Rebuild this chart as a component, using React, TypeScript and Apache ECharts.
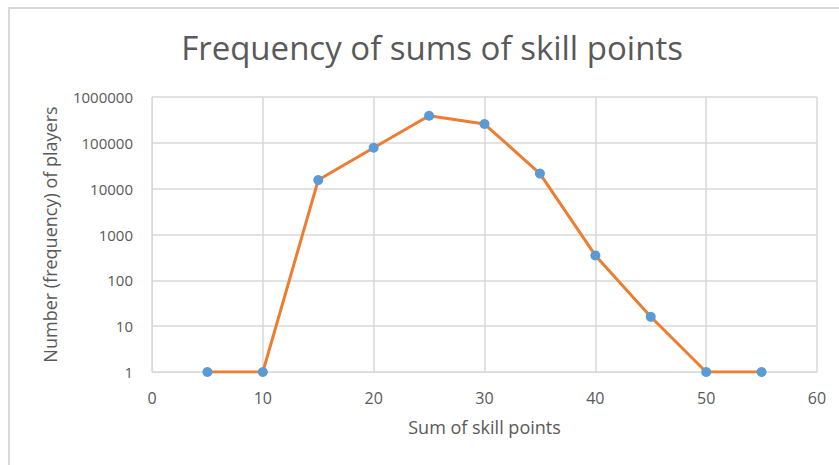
import React, { useEffect, useRef } from "react";
import * as echarts from "echarts";

const sums = [5, 10, 15, 20, 25, 30, 35, 40, 45, 50, 55];
const players = [1, 1, 15400, 78000, 390000, 257000, 21300, 350, 16, 1, 1];
const titleText = "Frequency of sums of skill points";
const xName = "Sum of skill points";
const yName = "Number (frequency) of players";

export default function App() {
  const ref = useRef<HTMLDivElement>(null);
  useEffect(() => {
    const chart = echarts.init(ref.current!, null, { renderer: "svg" });
    const font = "'Open Sans', sans-serif";
    chart.setOption({
      animation: false,
      backgroundColor: "#ffffff",
      textStyle: { fontFamily: font },
      graphic: [
        {
          type: "rect",
          shape: { x: 9, y: 8, width: 840, height: 470 },
          style: { fill: "none", stroke: "#d9d9d9", lineWidth: 2 },
          silent: true,
        },
        {
          type: "text",
          x: 432,
          y: 47,
          style: {
            text: titleText,
            fontFamily: font,
            fontSize: 33,
            fill: "#595959",
            align: "center",
            verticalAlign: "middle",
          },
          silent: true,
        },
      ],
      grid: { left: 152, right: 22, top: 97, bottom: 93 },
      xAxis: {
        type: "value",
        min: 0,
        max: 60,
        interval: 10,
        name: xName,
        nameLocation: "middle",
        nameGap: 46,
        nameTextStyle: { fontFamily: font, fontSize: 18, color: "#595959" },
        axisLine: { show: true, lineStyle: { color: "#d9d9d9", width: 1 } },
        axisTick: { show: false },
        axisLabel: { fontFamily: font, fontSize: 16, color: "#595959", margin: 18 },
        splitLine: { show: true, lineStyle: { color: "#d9d9d9", width: 1.5 } },
      },
      yAxis: {
        type: "log",
        logBase: 10,
        min: 1,
        max: 1000000,
        name: yName,
        nameLocation: "middle",
        nameGap: 93,
        nameTextStyle: { fontFamily: font, fontSize: 18, color: "#595959" },
        axisLine: { show: true, lineStyle: { color: "#d9d9d9", width: 1 } },
        axisTick: { show: false },
        axisLabel: {
          fontFamily: font,
          fontSize: 15,
          color: "#595959",
          margin: 19,
          formatter: (v: number) => String(Math.round(v)),
        },
        splitLine: { show: true, lineStyle: { color: "#d9d9d9", width: 1.5 } },
      },
      series: [
        {
          type: "line",
          data: sums.map((s, i) => [s, players[i]]),
          clip: true,
          lineStyle: { color: "#ED7D31", width: 3 },
          itemStyle: { color: "#5B9BD5" },
          symbol: "circle",
          symbolSize: 10,
          showSymbol: true,
        },
      ],
    });
    return () => chart.dispose();
  }, []);
  return (
    <div
      ref={ref}
      style={{ position: "fixed", left: 0, top: 0, width: 839, height: 465 }}
    />
  );
}
